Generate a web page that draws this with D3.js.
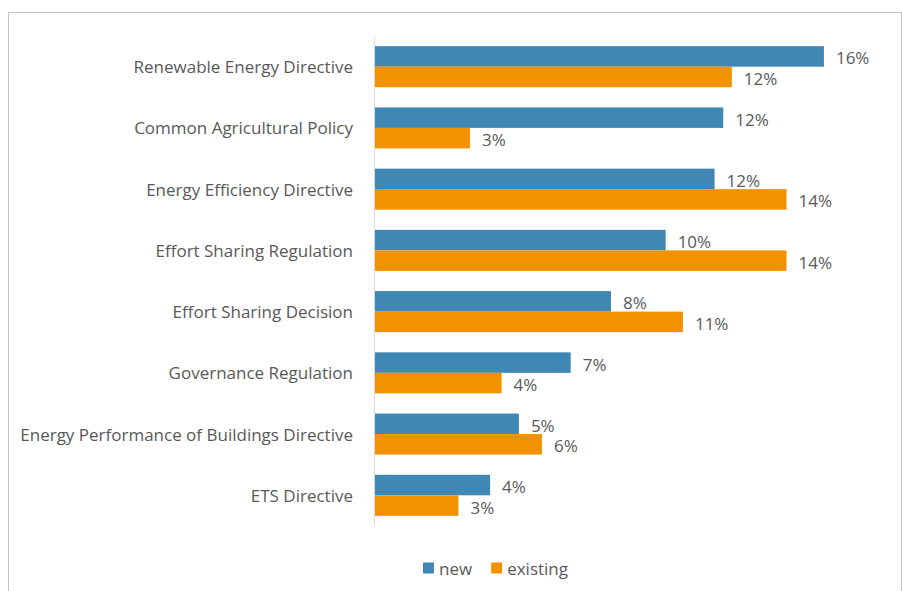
<!DOCTYPE html>
<html>
<head>
<meta charset="utf-8">
<script src="https://cdn.jsdelivr.net/npm/d3@7"></script>
<style>
    body { margin: 0; background: #fff; }
    svg { display: block; font-family: "Open Sans", sans-serif; }
</style>
</head>
<body>
<div id="chart"></div>
<script>
// Horizontal grouped bar chart: new vs existing, by EU policy instrument

let categories = [
    "Renewable Energy Directive",
    "Common Agricultural Policy",
    "Energy Efficiency Directive",
    "Effort Sharing Regulation",
    "Effort Sharing Decision",
    "Governance Regulation",
    "Energy Performance of Buildings Directive",
    "ETS Directive"
];

let seriesNames = ["new", "existing"];

let newValues      = [0.156, 0.121, 0.118, 0.101, 0.082, 0.068, 0.050, 0.040];
let existingValues = [0.124, 0.033, 0.143, 0.143, 0.107, 0.044, 0.058, 0.029];

let width = 902,
    height = 591,
    plotLeft = 375,
    plotRight = 893,
    plotTop = 37,
    plotBottom = 525,
    labelPad = 22,
    valuePad = 12,
    fontSize = 17,
    textColor = "#595959";

let colors = { "new": "#3f87b4", "existing": "#f39200" };

// Data process
// ---------------------------------------------------------

let data = categories.map((c, i) => ({
    category: c,
    values: [
        { key: "new", value: newValues[i] },
        { key: "existing", value: existingValues[i] }
    ]
}));

// Scales
// ---------------------------------------------------------

let xScale = d3.scaleLinear()
    .domain([0, 0.18])
    .range([plotLeft, plotRight]);

let yScale = d3.scaleBand()
    .domain(categories)
    .range([plotTop, plotBottom])
    .paddingInner(0.33)
    .paddingOuter(0.15);

let ySub = d3.scaleBand()
    .domain(seriesNames)
    .range([0, yScale.bandwidth()]);

let pct = d3.format(".0%");

// Svg + frame
// ---------------------------------------------------------

let svg = d3.select("#chart")
    .append("svg")
    .attr("width", width)
    .attr("height", height);

svg.append("rect")
    .attr("x", 8.5)
    .attr("y", 12.5)
    .attr("width", 893)
    .attr("height", 600)
    .attr("fill", "white")
    .attr("stroke", "#c4c4c4");

// Bars
// ---------------------------------------------------------

let groups = svg.selectAll(".group")
    .data(data)
    .enter()
    .append("g")
        .attr("class", "group")
        .attr("transform", d => `translate(0 ${yScale(d.category)})`);

groups.selectAll(".bar")
    .data(d => d.values)
    .enter()
    .append("rect")
        .attr("class", "bar")
        .attr("x", xScale(0))
        .attr("y", d => ySub(d.key))
        .attr("width", d => xScale(d.value) - xScale(0))
        .attr("height", ySub.bandwidth())
        .attr("fill", d => colors[d.key]);

groups.selectAll(".valueLabel")
    .data(d => d.values)
    .enter()
    .append("text")
        .attr("class", "valueLabel")
        .attr("x", d => xScale(d.value) + valuePad)
        .attr("y", d => ySub(d.key) + ySub.bandwidth() / 2 + 1.5)
        .attr("dominant-baseline", "central")
        .attr("font-size", fontSize)
        .attr("fill", textColor)
        .text(d => pct(d.value));

// Axis (category labels, vertical line)
// ---------------------------------------------------------

svg.append("line")
    .attr("x1", plotLeft - 0.5)
    .attr("x2", plotLeft - 0.5)
    .attr("y1", plotTop)
    .attr("y2", plotBottom)
    .attr("stroke", "#d9d9d9");

svg.selectAll(".catLabel")
    .data(categories)
    .enter()
    .append("text")
        .attr("class", "catLabel")
        .attr("x", plotLeft - labelPad)
        .attr("y", d => yScale(d) + yScale.bandwidth() / 2)
        .attr("text-anchor", "end")
        .attr("dominant-baseline", "central")
        .attr("font-size", fontSize)
        .attr("fill", textColor)
        .text(d => d);

// Legend
// ---------------------------------------------------------

let legend = svg.append("g")
    .attr("class", "legend")
    .attr("transform", "translate(423 568)");

let legendX = 0;
seriesNames.forEach(name => {
    let item = legend.append("g")
        .attr("transform", `translate(${legendX} 0)`);
    item.append("rect")
        .attr("x", 0)
        .attr("y", -5.5)
        .attr("width", 11)
        .attr("height", 11)
        .attr("fill", colors[name]);
    let t = item.append("text")
        .attr("x", 16)
        .attr("y", 0)
        .attr("dominant-baseline", "central")
        .attr("font-size", fontSize)
        .attr("fill", textColor)
        .text(name);
    legendX += 16 + t.node().getComputedTextLength() + 19;
});
</script>
</body>
</html>
